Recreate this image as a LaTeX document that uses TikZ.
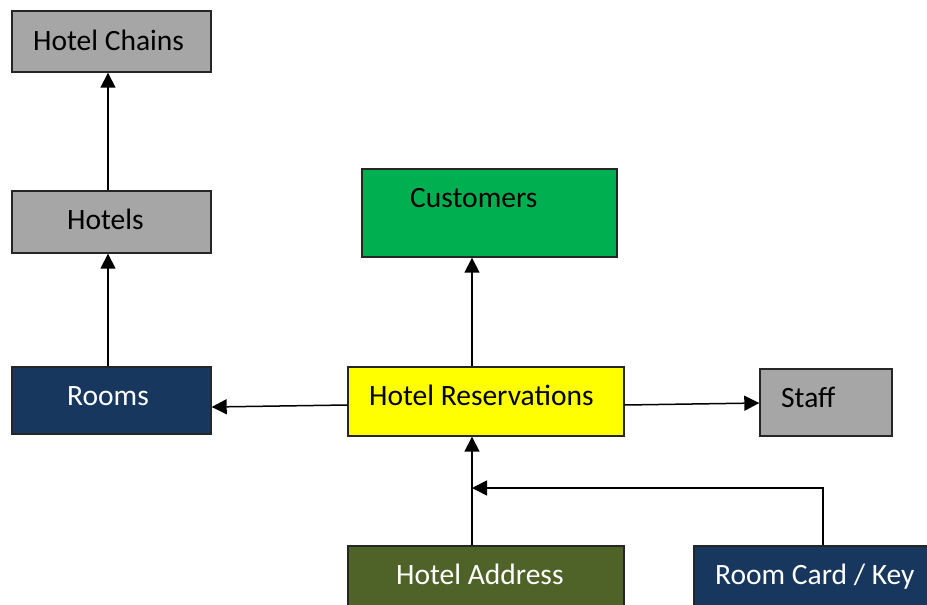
\documentclass[tikz,border=0pt]{standalone}
\usepackage{fontspec}
\setmainfont{Carlito}
\usetikzlibrary{arrows.meta}
\definecolor{boxgray}{HTML}{A6A6A6}
\definecolor{navy}{HTML}{17375E}
\definecolor{custgreen}{HTML}{00B050}
\definecolor{resyellow}{HTML}{FFFF00}
\definecolor{olive}{HTML}{4F6228}
\tikzset{
  box/.style={draw=black!85, line width=1.4pt, inner sep=0pt},
  txt/.style={anchor=base west, inner sep=0pt, font=\fontsize{29.5}{33}\selectfont},
  arr/.style={line width=1.5pt, -{Triangle[length=15pt,width=15pt]}},
}
\begin{document}
\begin{tikzpicture}[x=1pt,y=-1pt]
\clip (0,0) rectangle (927,605);
\fill[white] (0,0) rectangle (927,605);
% boxes
\node[box, fill=boxgray, minimum width=199pt, minimum height=61pt] (hc) at (111.5,41.5) {};
\node[box, fill=boxgray, minimum width=199pt, minimum height=62pt] (hotels) at (111.5,222) {};
\node[box, fill=navy, minimum width=199pt, minimum height=67pt] (rooms) at (111.5,400.5) {};
\node[box, fill=custgreen, minimum width=255pt, minimum height=88pt] (cust) at (489.5,213) {};
\node[box, fill=resyellow, minimum width=276pt, minimum height=69pt] (hr) at (486,401.5) {};
\node[box, fill=boxgray, minimum width=132pt, minimum height=67pt] (staff) at (826,402.5) {};
\node[box, fill=olive, minimum width=276pt, minimum height=100pt] (ha) at (486,596) {};
\node[box, fill=navy, minimum width=266pt, minimum height=100pt] (rc) at (827,596) {};
% texts
\node[txt] (hct) at (33,50) {Hotel Chains};
\node[txt] (hotelst) at (67,229) {Hotels};
\node[txt, text=white] (roomst) at (67,405) {Rooms};
\node[txt] (custt) at (410,207) {Customers};
\node[txt] (hrt) at (369,405) {Hotel Reservations};
\node[txt] (stafft) at (781,407) {Staff};
\node[txt, text=white] (hat) at (396,584) {Hotel Address};
\node[txt, text=white] (rct) at (715,584) {Room Card / Key};
% connectors
\coordinate (j) at (472,488);
\draw[arr] ([xshift=-3.5pt]hotels.north) -- ([xshift=-3.5pt]hc.south);
\draw[arr] ([xshift=-3.5pt]rooms.north) -- ([xshift=-3.5pt]hotels.south);
\draw[arr] ([yshift=-3.5pt]hr.west) -- ([yshift=-6.5pt]rooms.east);
\draw[arr] ([yshift=-3.5pt]hr.east) -- ([yshift=-0.5pt]staff.west);
\draw[arr] ([xshift=-14pt]hr.north) -- ([xshift=-17.5pt]cust.south);
\draw[arr] ([xshift=-14pt]ha.north) -- ([xshift=-14pt]hr.south);
\draw[arr] ([xshift=-4pt]rc.north) |- (j);
\end{tikzpicture}
\end{document}
